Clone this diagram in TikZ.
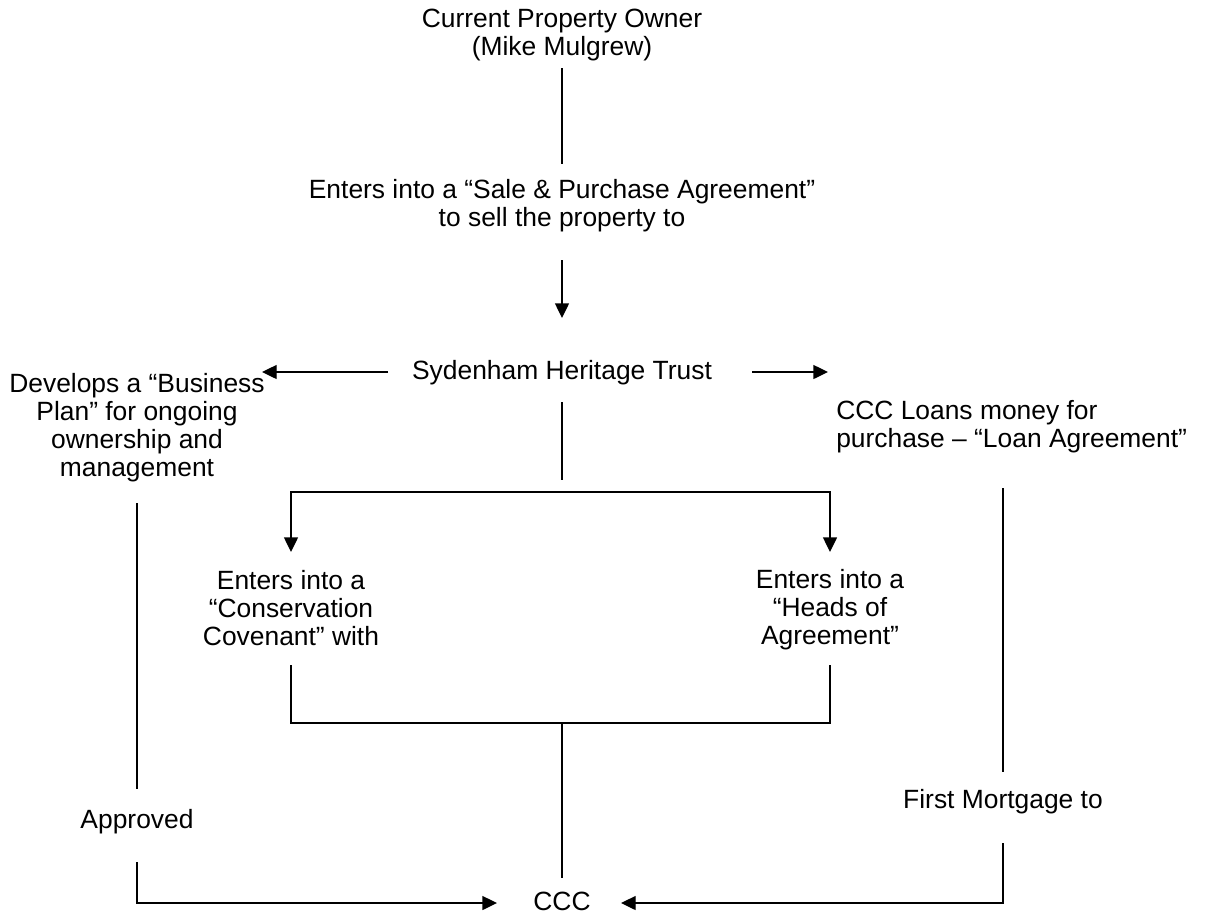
\documentclass[tikz,border=0pt]{standalone}
\usepackage{fontspec}
\setmainfont{Liberation Sans}
\usetikzlibrary{arrows.meta}
\begin{document}
\begin{tikzpicture}[x=0.75pt,y=-0.75pt,
  txt/.style={font=\fontsize{19.8}{21}\selectfont, align=center, inner sep=0pt},
  conn/.style={line width=1pt},
  arr/.style={conn,-{Triangle[length=11pt,width=10.5pt]}}]
\useasboundingbox (0,0) rectangle (1216,915);
% text nodes
\node[txt] (owner) at (562,35) {Current Property Owner\\(Mike Mulgrew)};
\node[txt] (sale) at (562,206) {Enters into a “Sale \& Purchase Agreement”\\to sell the property to};
\node[txt] (trust) at (562,373) {Sydenham Heritage Trust};
\node[txt] (plan) at (137,428) {Develops a “Business\\Plan” for ongoing\\ownership and\\management};
\node[txt,align=left,anchor=west] (loan) at (836,427) {CCC Loans money for\\purchase – “Loan Agreement”};
\node[txt] (cov) at (291,608) {Enters into a\\“Conservation\\Covenant” with};
\node[txt] (heads) at (830,610) {Enters into a\\“Heads of\\Agreement”};
\node[txt] (appr) at (137,822) {Approved};
\node[txt] (mort) at (1003,802) {First Mortgage to};
\node[txt] (ccc) at (562,901) {CCC};
% coordinates
\coordinate (a1) at (562,68); \coordinate (a2) at (562,164);
\coordinate (b1) at (562,260); \coordinate (b2) at (562,318);
\coordinate (tl1) at (388,372); \coordinate (tl2) at (262,372);
\coordinate (tr1) at (752,372); \coordinate (tr2) at (828,372);
\coordinate (c1) at (562,402); \coordinate (c2) at (562,480);
\coordinate (sM) at (562,492);
\coordinate (cL) at (291,552); \coordinate (cR) at (830,552);
\coordinate (dL) at (291,665); \coordinate (dR) at (830,665);
\coordinate (jL) at (291,723); \coordinate (jR) at (830,723);
\coordinate (jM) at (562,723); \coordinate (jE) at (562,878);
\coordinate (p1) at (137,503); \coordinate (p2) at (137,789);
\coordinate (p3) at (137,862); \coordinate (pE) at (497,903);
\coordinate (m1) at (1003,488); \coordinate (m2) at (1003,772);
\coordinate (m3) at (1003,843); \coordinate (mE) at (621,903);
% connectors
\draw[conn] (a1) -- (a2);
\draw[arr] (b1) -- (b2);
\draw[arr] (tl1) -- (tl2);
\draw[arr] (tr1) -- (tr2);
\draw[conn] (c1) -- (c2);
\draw[arr] (sM) -| (cL);
\draw[arr] (sM) -| (cR);
\draw[conn] (dL) -- (jL) -- (jR) -- (dR);
\draw[conn] (jM) -- (jE);
\draw[conn] (p1) -- (p2);
\draw[arr] (p3) |- (pE);
\draw[conn] (m1) -- (m2);
\draw[arr] (m3) |- (mE);
\end{tikzpicture}
\end{document}
